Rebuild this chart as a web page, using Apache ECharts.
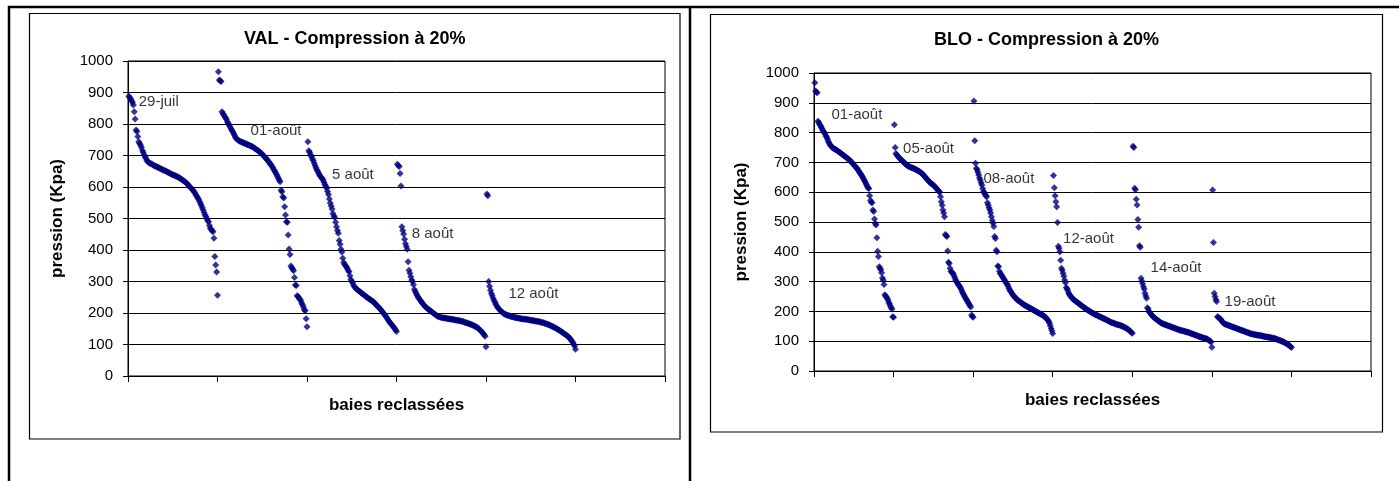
<!DOCTYPE html>
<html><head><meta charset="utf-8">
<script src="https://cdn.jsdelivr.net/npm/echarts@6/dist/echarts.min.js"></script>
<style>html,body{margin:0;padding:0;background:#fff}#c{width:1399px;height:481px}</style>
</head><body><div id="c"></div><script>
// ---------- DATA ----------
const yTicks = [0,100,200,300,400,500,600,700,800,900,1000];
const valTitle = 'VAL - Compression à 20%';
const bloTitle = 'BLO - Compression à 20%';
const yName = 'pression (Kpa)';
const xName = 'baies reclassées';

// VAL : pressions des baies reclassées par date (ordre décroissant)
const valJul29 = [888,884,879,874,868,860,839,816,781,776,760,744,738,733,726,717,710,702,696,691,685,680,678,676,675,674,672,670,668,667,666,665,663,662,660,659,657,656,654,653,652,651,649,648,646,645,643,642,640,639,638,637,635,634,633,631,630,628,626,624,622,620,618,616,613,611,607,604,601,598,595,592,588,584,580,575,570,565,560,554,548,541,534,527,519,512,506,500,494,490,478,469,465,461,458,437,379,352,330,256];
const valAug01 = [966,940,937,935,839,833,829,824,820,815,807,802,797,791,786,780,776,770,764,758,754,751,749,747,745,744,743,742,740,739,738,737,735,734,733,732,730,729,728,726,724,722,720,718,716,714,712,709,707,704,701,698,695,691,688,685,681,677,673,670,665,660,655,650,645,640,634,628,622,617,590,585,569,565,537,511,490,488,448,403,386,349,344,340,334,313,289,287,255,252,248,244,240,232,226,219,210,207,182,156];
const valAug05 = [744,715,710,702,697,690,684,676,668,661,655,650,644,638,634,630,626,622,615,608,602,596,586,576,562,549,540,530,516,508,503,488,474,462,453,430,418,402,394,374,360,355,350,347,341,335,331,318,306,301,295,288,283,280,277,275,272,270,268,266,263,261,259,257,254,252,250,248,246,244,242,240,238,236,233,230,227,224,221,218,215,212,209,205,201,198,194,190,186,181,176,172,168,165,162,158,155,151,146,141];
const valAug08 = [672,668,665,643,603,474,462,451,434,420,411,402,363,336,326,315,305,299,290,275,268,262,256,251,247,243,239,235,231,227,224,221,218,216,213,211,209,207,205,202,200,198,196,194,192,190,189,188,187,186,185,185,184,184,183,183,182,182,181,181,180,180,179,179,178,178,177,177,176,176,175,175,174,173,172,171,170,169,168,167,166,165,164,163,162,160,159,157,156,154,152,150,147,144,141,138,134,130,126,93];
const valAug12 = [578,572,300,285,272,262,255,247,240,234,228,222,218,214,211,208,205,203,200,198,197,195,194,193,192,191,190,189,188,188,187,186,186,185,184,184,183,183,182,182,181,181,180,180,180,179,179,178,178,177,177,176,176,175,175,174,174,173,173,172,171,171,170,169,168,167,166,165,164,163,162,160,159,158,156,155,153,152,150,148,147,145,143,141,139,137,135,133,131,129,127,125,122,118,114,110,106,101,95,85];
const valDates = ['29-juil','01-août','5 août','8 août','12 août'];
const valLabelAt = [[12,869],[137,778],[228,638],[317,451],[425,261]]; // (rang, pression)

// BLO
const bloAug01 = [967,940,936,934,838,834,828,824,819,814,808,803,800,795,789,784,778,770,765,760,756,753,750,748,746,745,743,742,740,738,736,734,732,730,728,726,724,722,720,718,716,714,711,709,707,704,701,698,695,692,689,686,683,680,676,672,668,664,660,656,651,646,641,636,631,625,619,614,612,588,572,566,565,540,535,510,495,490,447,402,384,350,345,340,330,312,305,290,256,252,248,243,238,230,225,218,212,208,182,180];
const bloAug05 = [826,750,730,725,722,719,716,713,710,708,705,703,700,698,695,692,690,688,687,686,684,683,682,681,680,679,677,676,675,673,671,670,669,667,664,662,659,656,653,650,647,644,641,638,635,632,630,628,626,624,621,618,615,612,609,606,603,600,585,568,556,540,530,518,458,455,451,403,365,361,345,335,332,329,326,320,313,305,300,296,292,288,284,279,274,268,262,257,252,247,242,238,233,228,224,220,215,188,183,180];
const bloAug08 = [906,773,697,680,675,667,658,648,641,632,624,612,602,598,592,588,585,565,557,548,540,530,518,505,496,485,451,445,405,400,352,350,335,328,325,320,316,311,307,303,298,294,290,284,278,272,268,264,259,255,252,249,246,243,240,238,236,234,232,230,228,226,224,222,221,219,218,216,215,213,212,210,209,207,206,204,203,201,200,198,197,195,194,192,191,189,188,186,184,182,180,177,174,170,166,160,152,143,135,126];
const bloAug12 = [656,615,588,568,551,498,419,412,400,372,345,338,328,318,305,296,280,276,270,262,257,253,249,246,243,240,238,236,234,232,230,228,226,224,222,220,218,216,214,212,210,208,206,205,203,201,199,198,196,195,193,192,190,189,188,186,185,184,182,181,180,179,177,176,175,174,172,171,170,168,167,165,164,163,162,161,160,159,158,157,156,155,154,154,153,152,151,150,148,147,146,144,143,141,139,137,135,132,129,127];
const bloAug14 = [754,750,613,608,576,557,508,482,420,415,311,302,293,283,275,261,252,244,212,208,200,196,193,189,186,183,180,178,176,174,172,170,168,166,164,162,160,159,158,157,156,155,154,153,152,151,150,149,148,147,146,145,144,143,142,141,140,139,138,137,137,136,135,134,134,133,132,131,131,130,129,128,127,126,125,124,123,122,121,120,119,118,117,116,115,114,113,112,111,110,110,109,108,107,106,104,102,100,97,80];
const bloAug19 = [607,431,261,250,240,233,182,180,178,176,174,170,166,163,160,158,157,156,155,154,153,152,151,150,149,148,147,146,145,144,143,142,141,140,139,138,137,136,135,134,133,132,131,130,129,128,127,126,125,124,124,123,123,122,122,121,121,120,120,119,119,118,118,117,117,116,115,115,114,114,113,113,112,112,111,111,110,110,109,108,107,106,105,104,103,102,101,100,99,98,96,95,93,92,90,88,86,84,82,79];
const bloDates = ['01-août','05-août','08-août','12-août','14-août','19-août'];
const bloLabelAt = [[22,859],[112,744],[213,644],[313,443],[423,346],[516,233]];

// ---------- BUILD ----------
const FONT = '"Liberation Sans", Arial, Helvetica, sans-serif';
const NAVY = '#000080';

function rankPoints(groups) {
  const pts = [];
  groups.forEach((arr, g) => arr.forEach((v, i) => pts.push([g * arr.length + i + 1, v])));
  return pts;
}
function labelPoints(names, at) {
  return names.map((n, i) => ({ name: n, value: at[i] }));
}

const valSegments = [valJul29, valAug01, valAug05, valAug08, valAug12];
const bloSegments = [bloAug01, bloAug05, bloAug08, bloAug12, bloAug14, bloAug19];

function xAxisDef(gridIndex, nSeg) {
  return {
    gridIndex, type: 'value', min: 0, max: nSeg * 100, interval: 100,
    name: xName, nameLocation: 'middle', nameGap: 21,
    nameTextStyle: { fontFamily: FONT, fontSize: 17, fontWeight: 'bold', color: '#000' },
    axisLine: { show: true, onZero: false, lineStyle: { color: '#000', width: 1 } },
    axisTick: { show: true, inside: false, length: 6, lineStyle: { color: '#000' } },
    axisLabel: { show: false },
    splitLine: { show: false }
  };
}
function yAxisDef(gridIndex, gap) {
  return {
    gridIndex, type: 'value', min: yTicks[0], max: yTicks[yTicks.length - 1],
    interval: yTicks[1] - yTicks[0],
    name: yName, nameLocation: 'middle', nameRotate: 90, nameGap: gap,
    nameTextStyle: { fontFamily: FONT, fontSize: 17, fontWeight: 'bold', color: '#000' },
    axisLine: { show: true, lineStyle: { color: '#000', width: 1 } },
    axisTick: { show: true, inside: false, length: 5, lineStyle: { color: '#000' } },
    axisLabel: { show: true, margin: 15, fontFamily: FONT, fontSize: 15, color: '#000',
      formatter: v => String(v) },
    splitLine: { show: true, lineStyle: { color: '#000', width: 1 } }
  };
}
function pointSeries(idx, groups) {
  return {
    type: 'scatter', xAxisIndex: idx, yAxisIndex: idx,
    symbol: 'diamond', symbolSize: 7,
    itemStyle: { color: NAVY },
    data: rankPoints(groups), silent: true, z: 3
  };
}
function labelSeries(idx, names, at) {
  return {
    type: 'scatter', xAxisIndex: idx, yAxisIndex: idx,
    symbolSize: 0, silent: true, z: 4,
    label: { show: true, position: 'right', distance: 0, formatter: '{b}',
      fontFamily: FONT, fontSize: 15, color: '#000' },
    data: labelPoints(names, at)
  };
}

const chart = echarts.init(document.getElementById('c'), null, { renderer: 'canvas' });
chart.setOption({
  animation: false,
  backgroundColor: '#fff',
  title: [
    { text: valTitle, left: 354.75, top: 30, textAlign: 'center', padding: 0,
      textStyle: { fontFamily: FONT, fontSize: 18, fontWeight: 'bold', color: '#000' } },
    { text: bloTitle, left: 1046.5, top: 31, textAlign: 'center', padding: 0,
      textStyle: { fontFamily: FONT, fontSize: 18, fontWeight: 'bold', color: '#000' } }
  ],
  grid: [
    { left: 128, top: 61, width: 537, height: 315, show: true, borderColor: '#000', borderWidth: 1, containLabel: false },
    { left: 814, top: 73, width: 557, height: 298, show: true, borderColor: '#000', borderWidth: 1, containLabel: false }
  ],
  xAxis: [xAxisDef(0, 6), xAxisDef(1, 7)],
  yAxis: [yAxisDef(0, 62), yAxisDef(1, 64)],
  series: [
    pointSeries(0, valSegments),
    pointSeries(1, bloSegments),
    labelSeries(0, valDates, valLabelAt),
    labelSeries(1, bloDates, bloLabelAt)
  ],
  graphic: [
    { type: 'line', silent: true, shape: { x1: 8, y1: 7, x2: 1399, y2: 7 }, style: { stroke: '#000', lineWidth: 2.5 } },
    { type: 'line', silent: true, shape: { x1: 9, y1: 6, x2: 9, y2: 481 }, style: { stroke: '#000', lineWidth: 2.5 } },
    { type: 'line', silent: true, shape: { x1: 690, y1: 6, x2: 690, y2: 481 }, style: { stroke: '#000', lineWidth: 2.5 } },
    { type: 'rect', silent: true, shape: { x: 29.5, y: 13.5, width: 650.5, height: 425.5 }, style: { fill: 'none', stroke: '#000', lineWidth: 1.2 } },
    { type: 'rect', silent: true, shape: { x: 710.5, y: 14.5, width: 672, height: 417.5 }, style: { fill: 'none', stroke: '#000', lineWidth: 1.2 } }
  ]
});
</script></body></html>
